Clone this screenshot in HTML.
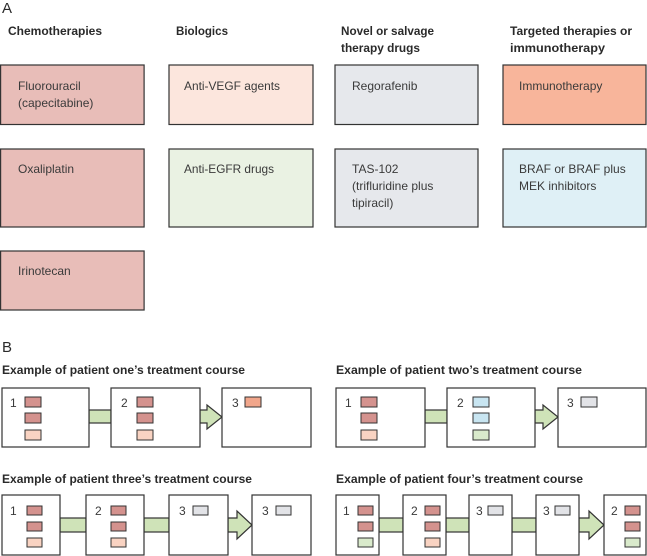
<!DOCTYPE html>
<html><head><meta charset="utf-8"><style>
html,body{margin:0;padding:0;background:#fff;width:647px;height:556px;overflow:hidden}
svg{display:block}
text{font-family:"Liberation Sans",sans-serif;fill:#2a2a2a}
.h{font-size:12px;font-weight:bold}
.t{font-size:12px;fill:#3a3a3a}
.n{font-size:12px;fill:#3a3a3a}
.bx{stroke:#333;stroke-width:1.2}
.c{fill:#d4928e}.v{fill:#f9d3c2}.g{fill:#e2e3e7}.i{fill:#f1a68b}.b{fill:#c8e5f1}.gr{fill:#d9eacb}
.sq{stroke:#333;stroke-width:1}
.cn{fill:#cfe3b8;stroke:#333;stroke-width:1.2}
</style></head><body>
<svg width="647" height="556" viewBox="0 0 647 556" xmlns="http://www.w3.org/2000/svg">
<text x="2" y="13" style="font-size:15px">A</text>
<text class="h" x="8" y="35" textLength="94" lengthAdjust="spacingAndGlyphs">Chemotherapies</text>
<text class="h" x="176" y="35" textLength="52" lengthAdjust="spacingAndGlyphs">Biologics</text>
<text class="h" x="341" y="35" textLength="93" lengthAdjust="spacingAndGlyphs">Novel or salvage</text>
<text class="h" x="341" y="52" textLength="79" lengthAdjust="spacingAndGlyphs">therapy drugs</text>
<text class="h" x="510" y="35" textLength="122" lengthAdjust="spacingAndGlyphs">Targeted therapies or</text>
<text class="h" x="510" y="52" textLength="95" lengthAdjust="spacingAndGlyphs">immunotherapy</text>

<rect class="bx" x="0.6" y="65" width="143.5" height="59.5" fill="#e8bdb8"/>
<rect class="bx" x="0.6" y="149" width="143.5" height="78" fill="#e8bdb8"/>
<rect class="bx" x="0.6" y="251" width="143.5" height="59" fill="#e8bdb8"/>
<rect class="bx" x="169" y="65" width="144" height="59.5" fill="#fce6dd"/>
<rect class="bx" x="169" y="149" width="144" height="78" fill="#eaf2e3"/>
<rect class="bx" x="335" y="65" width="143" height="59.5" fill="#e6e8ec"/>
<rect class="bx" x="335" y="149" width="143" height="78" fill="#e6e8ec"/>
<rect class="bx" x="503" y="65" width="143" height="59.5" fill="#f8b59b"/>
<rect class="bx" x="503" y="149" width="143" height="78" fill="#dff0f6"/>

<text class="t" x="18" y="90">Fluorouracil</text>
<text class="t" x="18" y="107">(capecitabine)</text>
<text class="t" x="18" y="173">Oxaliplatin</text>
<text class="t" x="18" y="275">Irinotecan</text>
<text class="t" x="184" y="90" textLength="96" lengthAdjust="spacingAndGlyphs">Anti-VEGF agents</text>
<text class="t" x="184" y="173" textLength="90" lengthAdjust="spacingAndGlyphs">Anti-EGFR drugs</text>
<text class="t" x="352" y="90">Regorafenib</text>
<text class="t" x="352" y="173">TAS-102</text>
<text class="t" x="352" y="190">(trifluridine plus</text>
<text class="t" x="352" y="207">tipiracil)</text>
<text class="t" x="519" y="90">Immunotherapy</text>
<text class="t" x="519" y="173">BRAF or BRAF plus</text>
<text class="t" x="519" y="190">MEK inhibitors</text>

<text x="2" y="352" style="font-size:15px">B</text>
<text class="h" x="2" y="374" textLength="243" lengthAdjust="spacingAndGlyphs">Example of patient one’s treatment course</text>
<text class="h" x="336" y="374" textLength="246" lengthAdjust="spacingAndGlyphs">Example of patient two’s treatment course</text>
<text class="h" x="2" y="483" textLength="250" lengthAdjust="spacingAndGlyphs">Example of patient three’s treatment course</text>
<text class="h" x="336" y="483" textLength="247" lengthAdjust="spacingAndGlyphs">Example of patient four’s treatment course</text>

<!-- patient one -->
<rect class="cn" x="89" y="410" width="22" height="13"/>
<polygon class="cn" points="200,410 207,410 207,405 222,417 207,429 207,423 200,423"/>
<rect class="bx" x="2" y="388" width="87" height="59" fill="#fff"/>
<rect class="bx" x="111" y="388" width="89" height="59" fill="#fff"/>
<rect class="bx" x="222" y="388" width="89" height="59" fill="#fff"/>
<text class="n" x="10" y="407">1</text>
<rect class="sq c" x="25" y="397" width="16" height="10"/><rect class="sq c" x="25" y="413" width="16" height="10"/><rect class="sq v" x="25" y="430" width="16" height="10"/>
<text class="n" x="121" y="407">2</text>
<rect class="sq c" x="137" y="397" width="16" height="10"/><rect class="sq c" x="137" y="413" width="16" height="10"/><rect class="sq v" x="137" y="430" width="16" height="10"/>
<text class="n" x="232" y="407">3</text>
<rect class="sq i" x="245" y="397" width="16" height="10"/>

<!-- patient two -->
<rect class="cn" x="425" y="410" width="22" height="13"/>
<polygon class="cn" points="535,410 543,410 543,405 558,417 543,429 543,423 535,423"/>
<rect class="bx" x="336" y="388" width="89" height="59" fill="#fff"/>
<rect class="bx" x="447" y="388" width="88" height="59" fill="#fff"/>
<rect class="bx" x="558" y="388" width="88" height="59" fill="#fff"/>
<text class="n" x="345" y="407">1</text>
<rect class="sq c" x="361" y="397" width="16" height="10"/><rect class="sq c" x="361" y="413" width="16" height="10"/><rect class="sq v" x="361" y="430" width="16" height="10"/>
<text class="n" x="457" y="407">2</text>
<rect class="sq b" x="473" y="397" width="16" height="10"/><rect class="sq b" x="473" y="413" width="16" height="10"/><rect class="sq gr" x="473" y="430" width="16" height="10"/>
<text class="n" x="567" y="407">3</text>
<rect class="sq g" x="581" y="397" width="16" height="10"/>

<!-- patient three -->
<rect class="cn" x="60" y="518" width="26" height="14"/>
<rect class="cn" x="144" y="518" width="25" height="14"/>
<polygon class="cn" points="228,518 237,518 237,511 252,525 237,539 237,532 228,532"/>
<rect class="bx" x="2" y="495" width="58" height="60" fill="#fff"/>
<rect class="bx" x="86" y="495" width="58" height="60" fill="#fff"/>
<rect class="bx" x="169" y="495" width="59" height="60" fill="#fff"/>
<rect class="bx" x="252" y="495" width="59" height="60" fill="#fff"/>
<text class="n" x="10" y="515">1</text>
<rect class="sq c" x="27" y="506" width="15" height="9"/><rect class="sq c" x="27" y="522" width="15" height="9"/><rect class="sq v" x="27" y="538" width="15" height="9"/>
<text class="n" x="95" y="515">2</text>
<rect class="sq c" x="111" y="506" width="15" height="9"/><rect class="sq c" x="111" y="522" width="15" height="9"/><rect class="sq v" x="111" y="538" width="15" height="9"/>
<text class="n" x="179" y="515">3</text>
<rect class="sq g" x="193" y="506" width="15" height="9"/>
<text class="n" x="262" y="515">3</text>
<rect class="sq g" x="276" y="506" width="15" height="9"/>

<!-- patient four -->
<rect class="cn" x="379" y="518" width="24" height="14"/>
<rect class="cn" x="446" y="518" width="23" height="14"/>
<rect class="cn" x="512" y="518" width="24" height="14"/>
<polygon class="cn" points="579,518 589,518 589,511 604,525 589,539 589,532 579,532"/>
<rect class="bx" x="336" y="495" width="43" height="60" fill="#fff"/>
<rect class="bx" x="403" y="495" width="43" height="60" fill="#fff"/>
<rect class="bx" x="469" y="495" width="43" height="60" fill="#fff"/>
<rect class="bx" x="536" y="495" width="43" height="60" fill="#fff"/>
<rect class="bx" x="604" y="495" width="42" height="60" fill="#fff"/>
<text class="n" x="343" y="515">1</text>
<rect class="sq c" x="358" y="506" width="15" height="9"/><rect class="sq c" x="358" y="522" width="15" height="9"/><rect class="sq gr" x="358" y="538" width="15" height="9"/>
<text class="n" x="411" y="515">2</text>
<rect class="sq c" x="425" y="506" width="15" height="9"/><rect class="sq c" x="425" y="522" width="15" height="9"/><rect class="sq v" x="425" y="538" width="15" height="9"/>
<text class="n" x="476" y="515">3</text>
<rect class="sq g" x="488" y="506" width="15" height="9"/>
<text class="n" x="543" y="515">3</text>
<rect class="sq g" x="555" y="506" width="15" height="9"/>
<text class="n" x="611" y="515">2</text>
<rect class="sq c" x="625" y="506" width="15" height="9"/><rect class="sq c" x="625" y="522" width="15" height="9"/><rect class="sq gr" x="625" y="538" width="15" height="9"/>
</svg>
</body></html>
